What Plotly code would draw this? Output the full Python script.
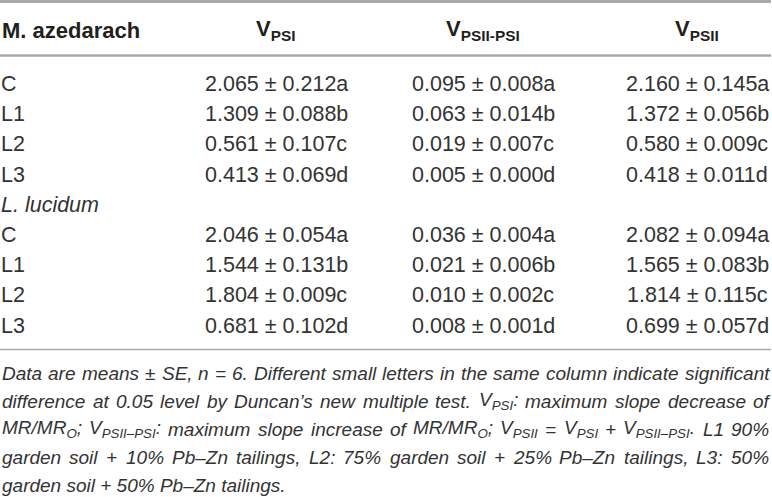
import plotly.graph_objects as go
import re

# valores da tabela
especies = ["M. azedarach", "L. lucidum"]
tratamentos = ["C", "L1", "L2", "L3"]

v_psi = [2.065, 1.309, 0.561, 0.413, 2.046, 1.544, 1.804, 0.681]
v_psi_se = [0.212, 0.088, 0.107, 0.069, 0.054, 0.131, 0.009, 0.102]
v_psi_letra = ["a", "b", "c", "d", "a", "b", "c", "d"]

v_psii_psi = [0.095, 0.063, 0.019, 0.005, 0.036, 0.021, 0.010, 0.008]
v_psii_psi_se = [0.008, 0.014, 0.007, 0.000, 0.004, 0.006, 0.002, 0.001]
v_psii_psi_letra = ["a", "b", "c", "d", "a", "b", "c", "d"]

v_psii = [2.160, 1.372, 0.580, 0.418, 2.082, 1.565, 1.814, 0.699]
v_psii_se = [0.145, 0.056, 0.009, 0.011, 0.094, 0.083, 0.115, 0.057]
v_psii_letra = ["a", "b", "c", "d", "a", "b", "c", "d"]

cabecalhos = ["V<sub>PSI</sub>", "V<sub>PSII-PSI</sub>", "V<sub>PSII</sub>"]

legenda = [
    "Data are means ± SE, n = 6. Different small letters in the same column indicate significant",
    "difference at 0.05 level by Duncan’s new multiple test. V<sub>PSI</sub>: maximum slope decrease of",
    "MR/MR<sub>O</sub>; V<sub>PSII–PSI</sub>: maximum slope increase of MR/MR<sub>O</sub>; "
    "V<sub>PSII</sub> = V<sub>PSI</sub> + V<sub>PSII–PSI</sub>. L1 90%",
    "garden soil + 10% Pb–Zn tailings, L2: 75% garden soil + 25% Pb–Zn tailings, L3: 50%",
    "garden soil + 50% Pb–Zn tailings.",
]

fonte = "Liberation Sans, Arial, sans-serif"
cor = "#333333"
cor_cab = "#231f20"
cor_linha = "#a7a9ac"

col_x = [276, 483, 697]
y_cab = 30
y0 = 84
passo = 30.2

# larguras aproximadas (Arial / Liberation Sans, em 1/1000 em) para justificar a legenda
larg = {" ": 278, "%": 889, "+": 584, ",": 278, "-": 333, ".": 278, "/": 278,
        ":": 278, ";": 278, "=": 584, "±": 584, "–": 556, "’": 222}
for c in "0123456789":
    larg[c] = 556
larg.update(dict(zip("ABCDEFGHIJKLMNOPQRSTUVWXYZ",
                     [667, 667, 722, 722, 667, 611, 778, 722, 278, 500, 667, 556, 833,
                      722, 778, 667, 778, 722, 667, 611, 722, 667, 944, 667, 667, 611])))
larg.update(dict(zip("abcdefghijklmnopqrstuvwxyz",
                     [556, 556, 500, 556, 556, 278, 556, 556, 222, 222, 500, 222, 833,
                      556, 556, 556, 556, 333, 500, 278, 556, 500, 722, 500, 500, 500])))


def largura(palavra, size):
    total = 0
    for parte in re.split(r"(<sub>.*?</sub>)", palavra):
        if parte.startswith("<sub>"):
            miolo = parte[5:-6]
            total += sum(larg.get(c, 556) for c in miolo) * 0.7
        else:
            total += sum(larg.get(c, 556) for c in parte)
    return total * size / 1000


anotacoes = []


def texto(x, y, t, anchor="center", size=21.5, bold=False, italic=False, color=cor):
    anotacoes.append(dict(
        x=x, y=y, xref="x", yref="y", text=t, showarrow=False,
        xanchor=anchor, yanchor="middle", borderpad=0, borderwidth=0,
        font=dict(family=fonte, size=size, color=color,
                  weight="bold" if bold else "normal",
                  style="italic" if italic else "normal"),
    ))


texto(2, y_cab, especies[0], anchor="left", size=22, bold=True, color=cor_cab)
for x, c in zip(col_x, cabecalhos):
    texto(x, y_cab, c, size=22, bold=True, color=cor_cab)

colunas = [
    (v_psi, v_psi_se, v_psi_letra),
    (v_psii_psi, v_psii_psi_se, v_psii_psi_letra),
    (v_psii, v_psii_se, v_psii_letra),
]

linha = 0
for i in range(8):
    if i == 4:
        texto(1, y0 + passo * linha, especies[1], anchor="left", italic=True)
        linha += 1
    y = y0 + passo * linha
    texto(1, y, tratamentos[i % 4], anchor="left")
    for x, (m, s, l) in zip(col_x, colunas):
        texto(x, y, f"{m[i]:.3f} ± {s[i]:.3f}{l[i]}")
    linha += 1

# legenda justificada palavra a palavra
tam_leg = 19
x_ini, x_fim = 2, 769
for j, t in enumerate(legenda):
    y = 373 + 28 * j
    if j == len(legenda) - 1:
        texto(x_ini, y, t, anchor="left", size=tam_leg, italic=True)
        continue
    palavras = t.split(" ")
    ws = [largura(p, tam_leg) for p in palavras]
    gap = (x_fim - x_ini - sum(ws)) / (len(palavras) - 1)
    x = x_ini
    for p, w in zip(palavras, ws):
        texto(x, y, p, anchor="left", size=tam_leg, italic=True)
        x += w + gap

fig = go.Figure()
fig.update_layout(
    width=772, height=497,
    margin=dict(l=0, r=0, t=0, b=0),
    paper_bgcolor="white", plot_bgcolor="white",
    xaxis=dict(range=[0, 772], visible=False, fixedrange=True),
    yaxis=dict(range=[497, 0], visible=False, fixedrange=True),
    annotations=anotacoes,
    shapes=[
        dict(type="line", x0=0, x1=771, y0=1.5, y1=1.5, line=dict(color=cor_linha, width=3)),
        dict(type="line", x0=0, x1=771, y0=55.5, y1=55.5, line=dict(color=cor_linha, width=2.5)),
        dict(type="line", x0=0, x1=771, y0=349.5, y1=349.5, line=dict(color=cor_linha, width=1.5)),
    ],
    showlegend=False,
)

fig.write_html("out.html", config={"displayModeBar": False},
               post_script="document.body.style.margin='0';document.body.style.overflow='hidden';")
